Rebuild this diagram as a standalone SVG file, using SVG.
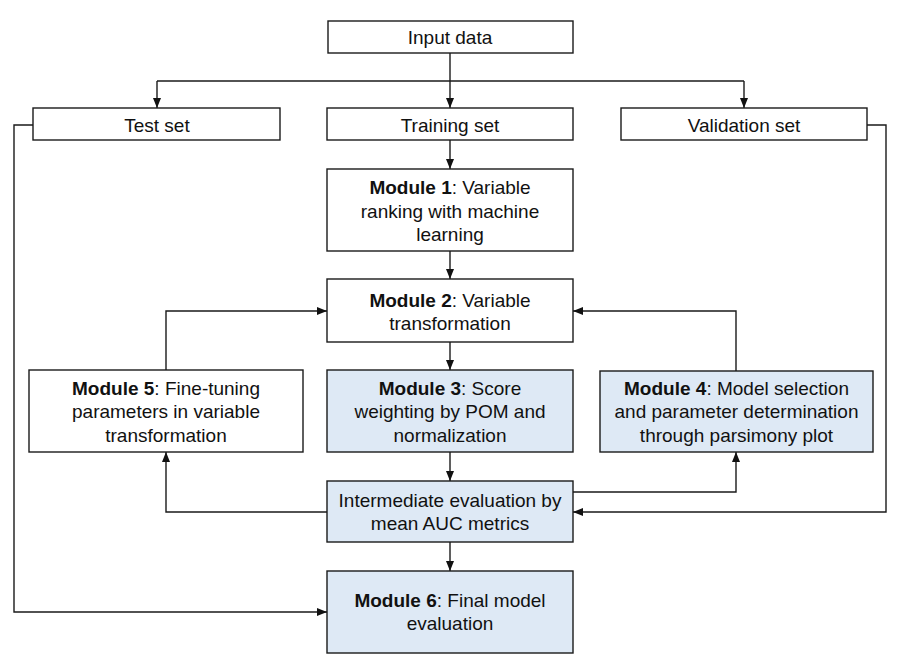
<svg xmlns="http://www.w3.org/2000/svg" width="904" height="670" viewBox="0 0 904 670">
<defs>
<marker id="arr" markerUnits="userSpaceOnUse" markerWidth="10" markerHeight="10" viewBox="0 0 10 10" refX="10" refY="5" orient="auto">
<path d="M0,1 L10,5 L0,9 Z" fill="#111"/>
</marker>
</defs>
<style>
.box{fill:#fff;stroke:#1a1a1a;stroke-width:1.4}
.blue{fill:#dee9f5}
.t{font-family:"Liberation Sans",Arial,sans-serif;font-size:19px;fill:#111;text-anchor:middle}
.b{font-weight:bold}
.c{fill:none;stroke:#1a1a1a;stroke-width:1.4}
</style>
<rect width="904" height="670" fill="#fff"/>
<g id="connectors">
<path class="c" d="M450,53 V108" marker-end="url(#arr)"/>
<path class="c" d="M157,81 H744"/>
<path class="c" d="M157,81 V108" marker-end="url(#arr)"/>
<path class="c" d="M744,81 V108" marker-end="url(#arr)"/>
<path class="c" d="M33,125 H14 V612 H327" marker-end="url(#arr)"/>
<path class="c" d="M867,125 H886 V512 H573" marker-end="url(#arr)"/>
<path class="c" d="M450,140 V169" marker-end="url(#arr)"/>
<path class="c" d="M450,251 V279" marker-end="url(#arr)"/>
<path class="c" d="M450,342 V370" marker-end="url(#arr)"/>
<path class="c" d="M166,370 V311 H327" marker-end="url(#arr)"/>
<path class="c" d="M736,371 V311 H573" marker-end="url(#arr)"/>
<path class="c" d="M450,452 V481" marker-end="url(#arr)"/>
<path class="c" d="M573,492 H736 V452" marker-end="url(#arr)"/>
<path class="c" d="M327,512 H166 V452" marker-end="url(#arr)"/>
<path class="c" d="M450,542 V571" marker-end="url(#arr)"/>
</g>
<g id="input">
<rect class="box" x="328" y="21" width="245" height="32"/>
<text class="t" x="450" y="44">Input data</text>
</g>
<g id="test">
<rect class="box" x="33" y="108" width="247" height="32"/>
<text class="t" x="157" y="132">Test set</text>
</g>
<g id="training">
<rect class="box" x="327" y="108" width="246" height="32"/>
<text class="t" x="450" y="132">Training set</text>
</g>
<g id="validation">
<rect class="box" x="621" y="108" width="246" height="32"/>
<text class="t" x="744" y="132">Validation set</text>
</g>
<g id="module1">
<rect class="box" x="327" y="169" width="246" height="82"/>
<text class="t" x="450" y="194"><tspan class="b">Module 1</tspan>: Variable</text>
<text class="t" x="450" y="218">ranking with machine</text>
<text class="t" x="450" y="241">learning</text>
</g>
<g id="module2">
<rect class="box" x="327" y="279" width="246" height="63"/>
<text class="t" x="450" y="307"><tspan class="b">Module 2</tspan>: Variable</text>
<text class="t" x="450" y="330">transformation</text>
</g>
<g id="module3">
<rect class="box blue" x="327" y="370" width="246" height="82"/>
<text class="t" x="450" y="395"><tspan class="b">Module 3</tspan>: Score</text>
<text class="t" x="450" y="418">weighting by POM and</text>
<text class="t" x="450" y="442">normalization</text>
</g>
<g id="module5">
<rect class="box" x="29" y="370" width="274" height="82"/>
<text class="t" x="166" y="395"><tspan class="b">Module 5</tspan>: Fine-tuning</text>
<text class="t" x="166" y="418">parameters in variable</text>
<text class="t" x="166" y="442">transformation</text>
</g>
<g id="module4">
<rect class="box blue" x="600" y="371" width="273" height="81"/>
<text class="t" x="736.5" y="395"><tspan class="b">Module 4</tspan>: Model selection</text>
<text class="t" x="736.5" y="418">and parameter determination</text>
<text class="t" x="736.5" y="442">through parsimony plot</text>
</g>
<g id="intermediate">
<rect class="box blue" x="327" y="481" width="246" height="61"/>
<text class="t" x="450" y="507">Intermediate evaluation by</text>
<text class="t" x="450" y="530">mean AUC metrics</text>
</g>
<g id="module6">
<rect class="box blue" x="327" y="571" width="246" height="82"/>
<text class="t" x="450" y="607"><tspan class="b">Module 6</tspan>: Final model</text>
<text class="t" x="450" y="630">evaluation</text>
</g>
</svg>
